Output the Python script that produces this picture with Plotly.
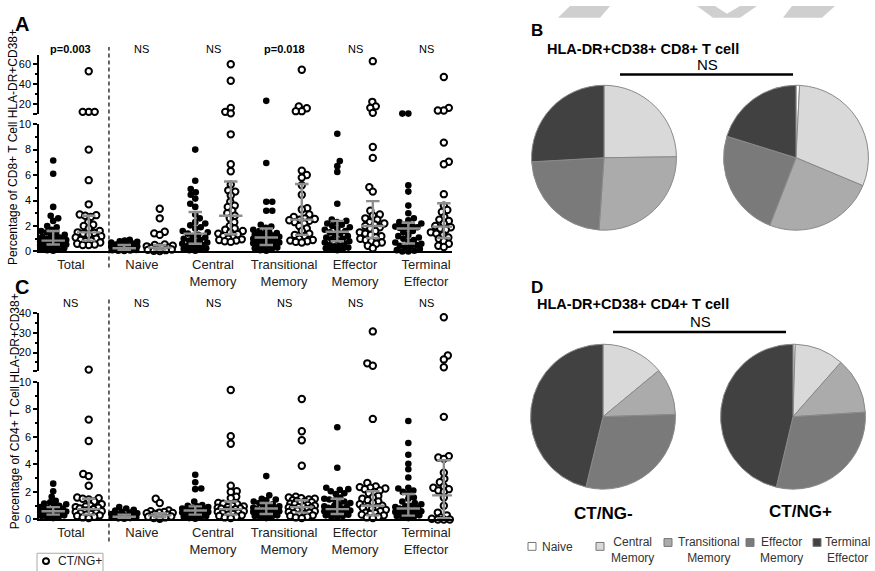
import numpy as np
import plotly.graph_objects as go

W, H = 875, 571
FONT = "Liberation Sans, Arial, sans-serif"

# ---------------- data ----------------
tick_labels = ["Total", "Naive", "Central<br>Memory", "Transitional<br>Memory",
               "Effector<br>Memory", "Terminal<br>Effector"]
stat_a = ["<b>p=0.003</b>", "NS", "NS", "<b>p=0.018</b>", "NS", "NS"]
stat_c = ["NS", "NS", "NS", "NS", "NS", "NS"]

# Panel A (CD8+), CT/NG- (filled) and CT/NG+ (open)
a_total_neg = [7.15, 6.1, 3.5, 2.8, 2.6, 2.4, 2.0, 1.9, 1.7, 1.6, 1.5, 1.4, 1.3, 1.2, 1.15, 1.1, 1.0, 0.95, 0.9,
               0.85, 0.8, 0.8, 0.75, 0.7, 0.65, 0.6, 0.55, 0.5, 0.45, 0.4, 0.35, 0.3, 0.25, 0.2, 0.15, 0.1, 0.05]
a_total_pos = [53, 12.5, 12.5, 12.5, 8.0, 5.6, 3.7, 2.9, 2.85, 2.8, 2.7, 2.3, 2.1, 2.0, 1.8, 1.6, 1.5, 1.45,
               1.4, 1.3, 1.2, 1.1, 1.0, 0.9, 0.85, 0.8, 0.7, 0.6, 0.55, 0.5, 0.5]
a_naive_neg = [0.92, 0.85, 0.8, 0.75, 0.7, 0.62, 0.55, 0.5, 0.45, 0.4, 0.35, 0.3, 0.28, 0.25, 0.22, 0.2, 0.18,
               0.15, 0.12, 0.1, 0.08, 0.05, 0.03]
a_naive_pos = [3.35, 2.6, 1.55, 1.42, 1.3, 0.55, 0.5, 0.45, 0.4, 0.35, 0.3, 0.28, 0.25, 0.2, 0.15, 0.12, 0.1,
               0.05, 0.03]
a_cm_neg = [8.0, 5.55, 4.9, 4.65, 4.45, 4.15, 3.75, 3.5, 2.9, 2.6, 2.3, 2.2, 2.05, 1.9, 1.8, 1.6, 1.5, 1.4, 1.3,
            1.2, 1.1, 1.0, 0.9, 0.85, 0.8, 0.7, 0.6, 0.5, 0.45, 0.4, 0.3, 0.25, 0.2, 0.15, 0.1, 0.05]
a_cm_pos = [60, 43.5, 16.5, 12.5, 11, 9.2, 6.85, 6.3, 5.25, 4.8, 4.7, 4.4, 3.9, 3.6, 3.5, 3.2, 3.0, 2.8, 2.6,
            2.3, 2.0, 1.8, 1.7, 1.6, 1.5, 1.4, 1.35, 1.2, 1.1, 1.0, 0.95, 0.9, 0.85, 0.8, 0.75]
a_tm_neg = [23.5, 6.95, 3.9, 3.9, 3.2, 3.2, 2.1, 1.95, 1.85, 1.7, 1.6, 1.5, 1.45, 1.4, 1.3, 1.25, 1.2, 1.15,
            1.1, 1.05, 1.0, 0.95, 0.9, 0.85, 0.8, 0.75, 0.7, 0.65, 0.6, 0.5, 0.45, 0.4, 0.3, 0.25, 0.2, 0.1, 0.05]
a_tm_pos = [54.5, 18.0, 16.1, 13.2, 13.2, 6.35, 6.0, 5.8, 5.2, 4.45, 3.4, 3.3, 2.9, 2.7, 2.6, 2.55, 2.5, 2.45,
            2.4, 2.3, 2.2, 2.0, 1.8, 1.6, 1.4, 1.3, 1.2, 1.0, 0.9, 0.85, 0.8, 0.75, 0.7]
a_em_neg = [9.25, 7.1, 6.7, 6.25, 3.75, 2.5, 2.4, 2.3, 2.2, 2.1, 2.0, 1.9, 1.8, 1.7, 1.6, 1.5, 1.4, 1.3, 1.2,
            1.1, 1.0, 0.95, 0.9, 0.8, 0.7, 0.6, 0.5, 0.45, 0.4, 0.3, 0.25, 0.2, 0.15, 0.1]
a_em_pos = [63, 22.5, 18, 16.5, 11.5, 8.2, 7.35, 5.05, 4.7, 3.2, 2.9, 2.8, 2.6, 2.5, 2.3, 2.2, 2.1, 2.0, 1.9,
            1.8, 1.6, 1.5, 1.4, 1.3, 1.2, 1.1, 1.0, 0.9, 0.8, 0.7, 0.6, 0.45, 0.25]
a_te_neg = [10.8, 10.8, 5.2, 4.7, 3.6, 3.0, 2.6, 2.45, 2.3, 2.2, 2.1, 2.0, 1.95, 1.9, 1.85, 1.8, 1.6, 1.5, 1.3,
            1.2, 1.1, 1.0, 0.9, 0.8, 0.7, 0.6, 0.5, 0.45, 0.4, 0.3, 0.2, 0.1, 0.05, 0.0, 0.0]
a_te_pos = [47.3, 16.5, 13.8, 13.8, 8.55, 7.05, 6.85, 4.5, 3.6, 3.25, 3.1, 2.7, 2.5, 2.4, 2.2, 2.1, 2.0, 1.9,
            1.8, 1.7, 1.5, 1.4, 1.3, 1.2, 1.1, 1.0, 0.8, 0.6, 0.45, 0.35]
# median, Q1, Q3 as drawn (grey bars)
a_med_neg = [0.85, 0.25, 1.4, 1.1, 1.55, 1.8]
a_q1_neg = [0.55, 0.1, 0.6, 0.5, 0.8, 0.62]
a_q3_neg = [1.6, 0.5, 3.1, 1.8, 2.4, 2.25]
a_med_pos = [1.5, 0.3, 2.8, 2.5, 2.0, 1.95]
a_q1_pos = [0.85, 0.15, 1.35, 1.3, 1.05, 1.05]
a_q3_pos = [2.8, 0.5, 5.5, 5.3, 3.95, 3.78]

# Panel C (CD4+)
c_total_neg = [2.6, 2.05, 1.65, 1.35, 1.25, 1.15, 1.1, 1.0, 0.95, 0.9, 0.85, 0.8, 0.75, 0.7, 0.65, 0.6, 0.58,
               0.55, 0.5, 0.45, 0.4, 0.35, 0.3, 0.25, 0.2, 0.15, 0.1]
c_total_pos = [11.3, 7.25, 5.7, 3.3, 3.15, 2.45, 1.6, 1.55, 1.5, 1.45, 1.3, 1.1, 1.0, 0.95, 0.9, 0.85, 0.8,
               0.75, 0.7, 0.65, 0.6, 0.55, 0.5, 0.45, 0.4, 0.35, 0.3, 0.25, 0.2, 0.15, 0.1]
c_naive_neg = [0.9, 0.8, 0.7, 0.65, 0.55, 0.5, 0.45, 0.4, 0.35, 0.3, 0.25, 0.22, 0.2, 0.18, 0.15, 0.12, 0.1,
               0.08, 0.05]
c_naive_pos = [1.5, 1.2, 0.65, 0.6, 0.55, 0.5, 0.48, 0.45, 0.4, 0.35, 0.3, 0.28, 0.25, 0.22, 0.2, 0.15, 0.1,
               0.05]
c_cm_neg = [3.25, 2.7, 2.25, 2.2, 1.3, 1.05, 1.0, 0.95, 0.9, 0.85, 0.8, 0.75, 0.7, 0.68, 0.65, 0.6, 0.55, 0.5,
            0.45, 0.4, 0.35, 0.3, 0.25, 0.2, 0.15, 0.1, 0.05]
c_cm_pos = [9.4, 6.05, 5.5, 2.45, 2.05, 2.0, 1.65, 1.55, 1.2, 1.15, 1.1, 1.0, 0.95, 0.9, 0.85, 0.8, 0.78, 0.75,
            0.7, 0.65, 0.6, 0.55, 0.5, 0.45, 0.4, 0.35, 0.3, 0.25, 0.2, 0.15, 0.1]
c_tm_neg = [3.15, 1.75, 1.5, 1.45, 1.4, 1.3, 1.2, 1.1, 1.0, 0.95, 0.9, 0.85, 0.8, 0.78, 0.75, 0.7, 0.65, 0.6,
            0.55, 0.5, 0.45, 0.4, 0.35, 0.3, 0.25, 0.2, 0.15, 0.1]
c_tm_pos = [8.75, 6.4, 5.75, 3.9, 1.65, 1.6, 1.55, 1.5, 1.45, 1.4, 1.35, 1.3, 1.25, 1.2, 1.15, 1.1, 1.05, 1.0,
            0.95, 0.9, 0.88, 0.85, 0.8, 0.75, 0.7, 0.65, 0.6, 0.55, 0.5, 0.45, 0.4, 0.35, 0.3, 0.25, 0.2, 0.15, 0.1]
c_em_neg = [6.7, 3.75, 2.3, 2.2, 2.15, 2.05, 1.9, 1.85, 1.6, 1.5, 1.45, 1.4, 1.3, 1.2, 1.1, 1.0, 0.95, 0.9,
            0.85, 0.8, 0.75, 0.7, 0.65, 0.6, 0.55, 0.5, 0.45, 0.4, 0.35, 0.3, 0.25, 0.2, 0.15]
c_em_pos = [30.8, 14.5, 13.3, 7.3, 2.65, 2.4, 2.35, 2.3, 2.25, 2.2, 2.1, 2.0, 1.9, 1.7, 1.6, 1.5, 1.4, 1.3, 1.2,
            1.1, 1.0, 0.95, 0.9, 0.85, 0.8, 0.7, 0.6, 0.5, 0.45, 0.4, 0.35, 0.3, 0.2, 0.15, 0.1]
c_te_neg = [7.15, 5.55, 4.7, 4.05, 3.65, 3.05, 2.3, 2.25, 2.1, 2.0, 1.9, 1.6, 1.5, 1.3, 1.2, 1.1, 1.0, 0.95,
            0.9, 0.85, 0.8, 0.75, 0.7, 0.65, 0.6, 0.55, 0.5, 0.45, 0.4, 0.35, 0.3, 0.25, 0.2, 0.15, 0.1]
c_te_pos = [38, 18.5, 16.5, 12.5, 7.45, 4.6, 4.5, 4.4, 3.4, 2.95, 2.7, 2.4, 2.3, 2.2, 2.1, 2.0, 1.6, 1.0, 0.5,
            0.3, 0.15, 0.1, 0.05, 0.0, 0.0, 0.0]
c_med_neg = [0.6, 0.2, 0.65, 0.8, 0.75, 0.8]
c_q1_neg = [0.35, 0.1, 0.35, 0.4, 0.4, 0.28]
c_q3_neg = [0.9, 0.35, 0.95, 1.2, 1.5, 1.85]
c_med_pos = [0.75, 0.3, 0.75, 0.9, 1.0, 1.75]
c_q1_pos = [0.35, 0.15, 0.35, 0.5, 0.3, 0.1]
c_q3_pos = [1.5, 0.45, 1.3, 1.4, 2.05, 4.3]

# Pie charts: subset composition (%)
subsets = ["Naive", "Central Memory", "Transitional Memory", "Effector Memory", "Terminal Effector"]
legend_labels = ["Naive", "Central<br>Memory", "Transitional<br>Memory", "Effector<br>Memory", "Terminal<br>Effector"]
subset_colors = ["#ffffff", "#d9d9d9", "#ababab", "#7a7a7a", "#414141"]
cd8_ctng_neg = [0.0, 24.8, 26.3, 23.0, 25.9]
cd8_ctng_pos = [0.8, 30.5, 24.6, 23.9, 20.2]
cd4_ctng_neg = [0.0, 14.0, 10.5, 29.3, 46.2]
cd4_ctng_pos = [0.5, 11.0, 12.5, 29.7, 46.3]

a_neg = [a_total_neg, a_naive_neg, a_cm_neg, a_tm_neg, a_em_neg, a_te_neg]
a_pos = [a_total_pos, a_naive_pos, a_cm_pos, a_tm_pos, a_em_pos, a_te_pos]
c_neg = [c_total_neg, c_naive_neg, c_cm_neg, c_tm_neg, c_em_neg, c_te_neg]
c_pos = [c_total_pos, c_naive_pos, c_cm_pos, c_tm_pos, c_em_pos, c_te_pos]


# ---------------- helpers ----------------
def py(p):  # pixel y -> paper
    return 1 - p / H


def px(p):
    return p / W


X0, X1 = 39, 452
XR = [-0.9, 10.73]
XPPU = (X1 - X0) / (XR[1] - XR[0])


def swarm(values, yppu, diam=6.6, maxw=13.0):
    vals = np.asarray(values, float)
    order = np.argsort(vals, kind="stable")
    placed = []
    offs = np.zeros(len(vals))
    for n, i in enumerate(order):
        y = vals[i] * yppu
        near = [(a, b) for a, b in placed if abs(b - y) < diam]
        cands = [0.0]
        k = 0.5
        while k <= maxw:
            cands += [k, -k] if n % 2 == 0 else [-k, k]
            k += 0.5
        best, bestd, bestoff = None, -1, 0.0
        for c in cands:
            d = min((np.hypot(c - a, y - b) for a, b in near), default=1e9)
            if d >= diam * 0.85:
                best = c
                break
            if d > bestd:
                bestd, bestoff = d, c
        if best is None:
            best = bestoff
        offs[i] = best / XPPU
        placed.append((best, y))
    return offs


fig = go.Figure()

panels = [
    dict(neg=a_neg, pos=a_pos, xa="x", yb="y", yt="y2", split=10.0, yppu_b=13.0, yppu_t=1.025,
         med=(a_med_neg, a_med_pos), q1=(a_q1_neg, a_q1_pos), q3=(a_q3_neg, a_q3_pos)),
    dict(neg=c_neg, pos=c_pos, xa="x2", yb="y3", yt="y4", split=10.5, yppu_b=14.07, yppu_t=2.0,
         med=(c_med_neg, c_med_pos), q1=(c_q1_neg, c_q1_pos), q3=(c_q3_neg, c_q3_pos)),
]

for p in panels:
    for s, (series, sign) in enumerate([(p["neg"], -0.5), (p["pos"], 0.5)]):
        xs_b, ys_b, xs_t, ys_t = [], [], [], []
        for g, vals in enumerate(series):
            vals = np.asarray(vals, float)
            low = vals[vals <= p["split"]]
            high = vals[vals > p["split"]]
            cx = 2 * g + sign
            if len(low):
                xs_b += list(cx + swarm(low, p["yppu_b"]))
                ys_b += list(low)
            if len(high):
                xs_t += list(cx + swarm(high - p["split"], p["yppu_t"]))
                ys_t += list(high)
        if s == 0:
            mk = dict(symbol="circle", size=6.6, color="black", line=dict(width=0))
        else:
            mk = dict(symbol="circle", size=6.4, color="white", line=dict(color="black", width=2))
        for xs, ys, ya in [(xs_b, ys_b, p["yb"]), (xs_t, ys_t, p["yt"])]:
            fig.add_trace(go.Scatter(x=xs, y=ys, mode="markers", marker=mk, xaxis=p["xa"], yaxis=ya,
                                     cliponaxis=False, showlegend=False, hoverinfo="y"))
    # median + IQR bars
    ex, ey = [], []
    for s, sign in enumerate([-0.5, 0.5]):
        for g in range(6):
            cx = 2 * g + sign
            m, a, b = p["med"][s][g], p["q1"][s][g], p["q3"][s][g]
            ex += [cx, cx, None, cx - 0.19, cx + 0.19, None, cx - 0.19, cx + 0.19, None,
                   cx - 0.33, cx + 0.33, None]
            ey += [a, b, None, a, a, None, b, b, None, m, m, None]
    fig.add_trace(go.Scatter(x=ex, y=ey, mode="lines", line=dict(color="#8e8e8e", width=2.4),
                             xaxis=p["xa"], yaxis=p["yb"], cliponaxis=False, showlegend=False,
                             hoverinfo="skip"))

# pies
pie_boxes = [
    (cd8_ctng_neg, 604, 155), (cd8_ctng_pos, 796, 155),
    (cd4_ctng_neg, 603, 419.5), (cd4_ctng_pos, 793, 419.5),
]
R = 74
for vals, cx, cy in pie_boxes:
    fig.add_trace(go.Pie(values=vals, labels=subsets, sort=False, direction="clockwise", rotation=0,
                         marker=dict(colors=subset_colors, line=dict(color="#8a8a8a", width=1)),
                         textinfo="none", showlegend=False, hoverinfo="label+percent",
                         domain=dict(x=[px(cx - R), px(cx + R)], y=[py(cy + R), py(cy - R)])))

axfont = dict(family=FONT, size=11, color="black")
common_y = dict(showline=True, linecolor="black", linewidth=1.5, ticks="outside", ticklen=4, tickwidth=1.5,
                tickcolor="black", showgrid=False, zeroline=False, tickfont=axfont, fixedrange=True)
common_x = dict(showline=True, linecolor="black", linewidth=1.5, showgrid=False, zeroline=False,
                range=XR, domain=[px(X0), px(X1)], tickvals=[0, 2, 4, 6, 8, 10], ticktext=tick_labels,
                ticks="", tickfont=dict(family=FONT, size=13, color="#222"), fixedrange=True)

fig.update_layout(
    width=W, height=H, margin=dict(l=0, r=0, t=0, b=0), paper_bgcolor="white", plot_bgcolor="white",
    font=dict(family=FONT, color="black"),
    xaxis=dict(**common_x, anchor="y"),
    yaxis=dict(**common_y, domain=[py(250.7), py(120.7)], range=[0, 10], tickvals=[0, 2, 4, 6, 8, 10],
               minor=dict(dtick=1, ticklen=2, tickcolor="black", ticks="outside"), anchor="x"),
    yaxis2=dict(**common_y, domain=[py(110.7), py(50.2)], range=[10, 69], tickvals=[10, 20, 40, 60],
                ticktext=["", "20", "40", "60"],
                minor=dict(dtick=10, ticklen=2, tickcolor="black", ticks="outside"), anchor="x"),
    xaxis2=dict(**common_x, anchor="y3"),
    yaxis3=dict(**common_y, domain=[py(524.5), py(383.8)], range=[0, 10], tickvals=[0, 2, 4, 6, 8, 10],
                minor=dict(dtick=1, ticklen=2, tickcolor="black", ticks="outside"), anchor="x2"),
    yaxis4=dict(**common_y, domain=[py(373), py(313.6)], range=[10.5, 40.2], tickvals=[10.5, 20, 30, 40],
                ticktext=["", "20", "30", "40"],
                minor=dict(dtick=5, ticklen=2, tickcolor="black", ticks="outside"), anchor="x2"),
)

ann = []


def txt(x, y, t, size=12, xref="paper", anchor="center", angle=0, color="black"):
    ann.append(dict(x=x, y=y, xref=xref, yref="paper", text=t, showarrow=False, xanchor=anchor,
                    yanchor="middle", textangle=angle, font=dict(family=FONT, size=size, color=color)))


# panel letters
txt(px(22), py(18), "<b>A</b>", 20)
txt(px(22), py(287), "<b>C</b>", 20)
txt(px(537), py(25), "<b>B</b>", 17)
txt(px(537), py(288), "<b>D</b>", 17)

# y titles
txt(px(13), py(144), "Percentage of CD8+ T Cell HLA-DR+CD38+", 12, angle=-90)
txt(px(15), py(414), "Percentage of CD4+ T Cell HLA-DR+CD38+", 12, angle=-90)

# stat labels
for g in range(6):
    txt(2 * g, py(44), stat_a[g], 11, xref="x")
    txt(2 * g, py(303), stat_c[g], 11, xref="x")

# pie titles
txt(px(545), py(44), "<b>HLA-DR+CD38+ CD8+ T cell</b>", 14.5, anchor="left")
txt(px(707), py(60), "NS", 15)
txt(px(535), py(304), "<b>HLA-DR+CD38+ CD4+ T cell</b>", 14.5, anchor="left")
txt(px(700), py(322), "NS", 15)
txt(px(603), py(518), "<b>CT/NG-</b>", 17)
txt(px(800), py(516), "<b>CT/NG+</b>", 17)

# pie legend
leg_sq = [532, 600, 668, 750, 817]
leg_tx = [557, 632, 709, 781, 847]
leg_y = [553, 556, 556, 556, 556]
shapes = []
for i in range(5):
    sy = 552 if i < 2 else 548
    shapes.append(dict(type="rect", xref="paper", yref="paper", x0=px(leg_sq[i] - 4), x1=px(leg_sq[i] + 4),
                       y0=py(sy + 4), y1=py(sy - 4), fillcolor=subset_colors[i],
                       line=dict(color="#777", width=1)))
    txt(px(leg_tx[i]), py(leg_y[i]), legend_labels[i], 12, color="#333")

# CT/NG+ legend box (bottom left)
shapes.append(dict(type="rect", xref="paper", yref="paper", x0=px(37), x1=px(103), y0=py(590), y1=py(559),
                   line=dict(color="#aaaaaa", width=1)))
shapes.append(dict(type="circle", xref="paper", yref="paper", x0=px(43), x1=px(49), y0=py(570), y1=py(564),
                   line=dict(color="black", width=2), fillcolor="white"))
txt(px(56), py(567), "CT/NG+", 12, anchor="left", color="#222")

# dashed separators
shapes.append(dict(type="line", xref="x", yref="paper", x0=1.07, x1=1.07, y0=py(267), y1=py(42),
                   line=dict(color="black", width=1.2, dash="4px,3px")))
shapes.append(dict(type="line", xref="x2", yref="paper", x0=1.07, x1=1.07, y0=py(547), y1=py(297),
                   line=dict(color="black", width=1.2, dash="4px,3px")))
# NS bars over pies
shapes.append(dict(type="line", xref="paper", yref="paper", x0=px(620), x1=px(793), y0=py(70), y1=py(70),
                   line=dict(color="black", width=2.5)))
shapes.append(dict(type="line", xref="paper", yref="paper", x0=px(613), x1=px(786), y0=py(333), y1=py(333),
                   line=dict(color="black", width=2.5)))

# faint watermark chevrons at top
for pts in [[(558, 12), (570, 0), (610, 0), (600, 12)],
            [(697, 0), (715, 0), (727, 8), (740, 0), (757, 0), (740, 12), (713, 12)],
            [(783, 12), (792, 0), (835, 0), (822, 12)]]:
    path = "M " + " L ".join(f"{px(a)},{py(b)}" for a, b in pts) + " Z"
    shapes.append(dict(type="path", xref="paper", yref="paper", path=path, fillcolor="#cfcfcf",
                       line=dict(width=0), layer="below"))

fig.update_layout(annotations=ann, shapes=shapes)
fig.write_html("out.html", config={"displayModeBar": False},
               post_script="document.body.style.margin='0';document.body.style.overflow='hidden';")
